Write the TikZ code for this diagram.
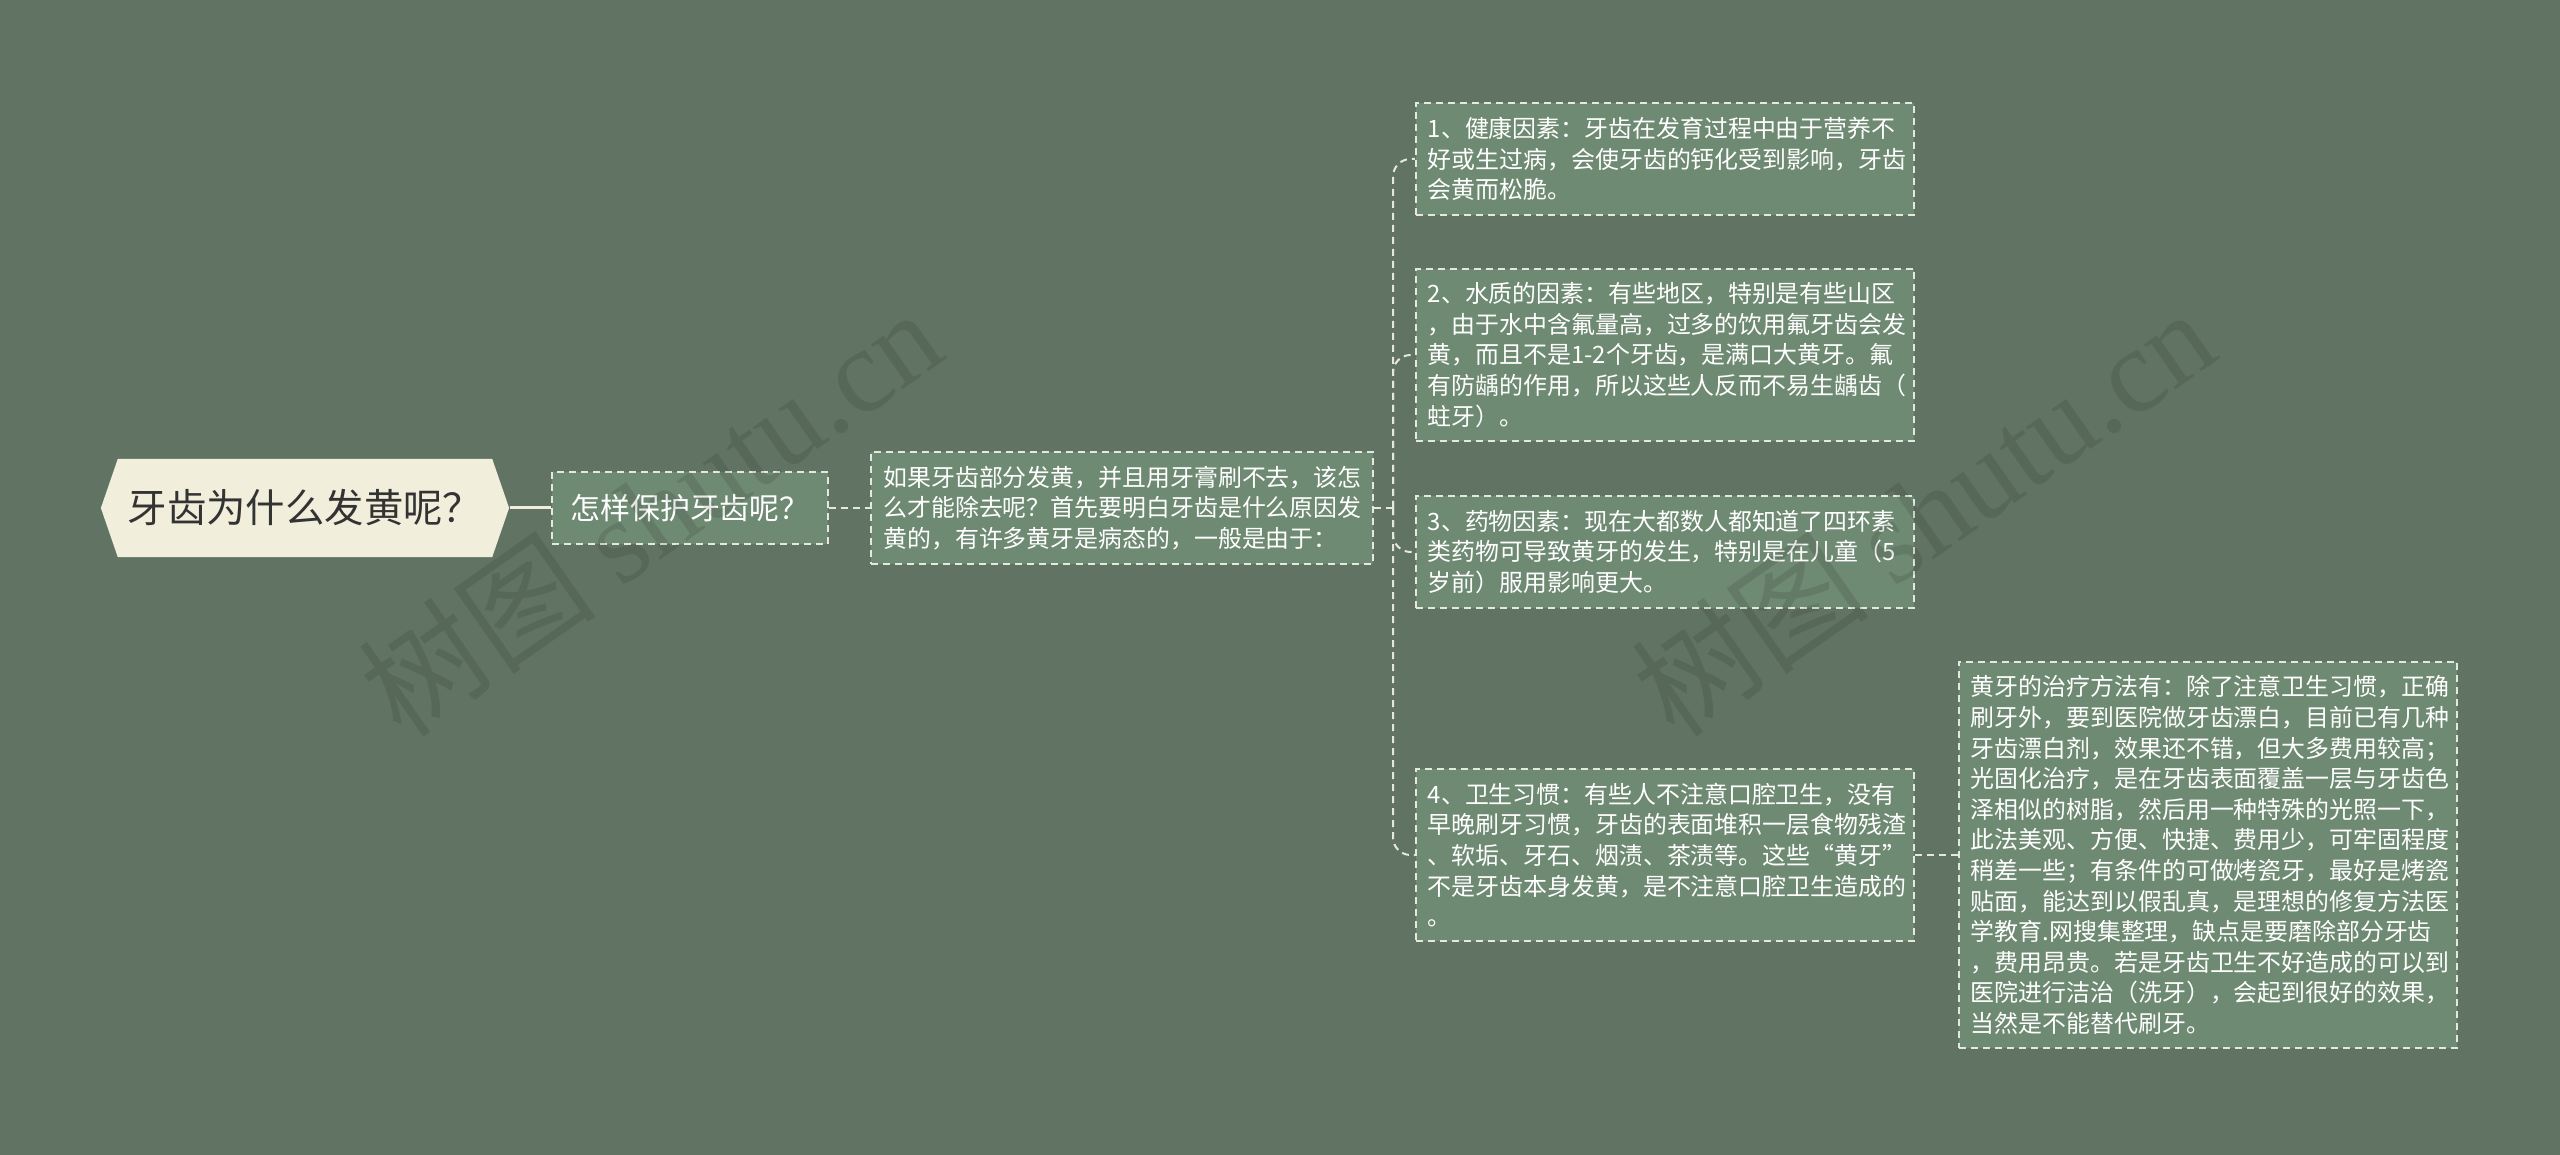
\documentclass[tikz,border=0pt]{standalone}
\usepackage{fontspec}
\setmainfont{Noto Sans CJK SC}
\newfontfamily\wmfont{Liberation Serif}
\usetikzlibrary{shapes.symbols}

\definecolor{bgcol}{HTML}{617463}
\definecolor{boxcol}{HTML}{6F8A72}
\definecolor{rootcol}{HTML}{F1EEDC}
\definecolor{edgecol}{HTML}{E4E8DE}
\definecolor{inkcol}{HTML}{333333}

\tikzset{
  leafbox/.style={draw=edgecol, fill=boxcol, line width=0.02cm,
    dash pattern=on 0.07cm off 0.05cm, text=white, align=left,
    text width=4.74cm, inner xsep=0.12cm, inner ysep=0.14cm,
    font=\fontsize{6.8pt}{8.7pt}\selectfont},
  rootbox/.style={signal, signal to=west and east, signal pointer angle=142,
    fill=rootcol, text=inkcol, minimum width=4.08cm, minimum height=0.98cm,
    inner sep=0pt, font=\fontsize{11.2pt}{13pt}\selectfont},
  dashlink/.style={draw=edgecol, line width=0.02cm, dash pattern=on 0.07cm off 0.05cm},
  wmtext/.style={text=black, text opacity=0.1, rotate=35,
    font=\fontsize{34pt}{34pt}\selectfont}
}

\begin{document}
\begin{tikzpicture}[x=0.01cm, y=-0.01cm]
  \useasboundingbox (0,0) rectangle (2560,1155);
  \fill[bgcol] (0,0) rectangle (2560,1155);

  \node[rootbox] (root) at (305,508) {牙齿为什么发黄呢？};
  \node[leafbox, text width=, minimum width=2.76cm, minimum height=0.72cm,
    align=center, font=\fontsize{8.5pt}{10pt}\selectfont] (how) at (690,508) {怎样保护牙齿呢？};
  \node[leafbox, text width=4.77cm] (intro) at (1122,508)
    {如果牙齿部分发黄，并且用牙膏刷不去，该怎\\么才能除去呢？首先要明白牙齿是什么原因发\\黄的，有许多黄牙是病态的，一般是由于：};

  % four causes
  \node[leafbox] (health) at (1665,159)
    {1、健康因素：牙齿在发育过程中由于营养不\\好或生过病，会使牙齿的钙化受到影响，牙齿\\会黄而松脆。};
  \node[leafbox] (water) at (1665,355)
    {2、水质的因素：有些地区，特别是有些山区\\，由于水中含氟量高，过多的饮用氟牙齿会发\\黄，而且不是1-2个牙齿，是满口大黄牙。氟\\有防龋的作用，所以这些人反而不易生龋齿（\\蛀牙）。};
  \node[leafbox] (drug) at (1665,552)
    {3、药物因素：现在大都数人都知道了四环素\\类药物可导致黄牙的发生，特别是在儿童（5\\岁前）服用影响更大。};
  \node[leafbox] (habit) at (1665,855)
    {4、卫生习惯：有些人不注意口腔卫生，没有\\早晚刷牙习惯，牙齿的表面堆积一层食物残渣\\、软垢、牙石、烟渍、茶渍等。这些“黄牙”\\不是牙齿本身发黄，是不注意口腔卫生造成的\\。};
  \node[leafbox] (cure) at (2208,855)
    {黄牙的治疗方法有：除了注意卫生习惯，正确\\刷牙外，要到医院做牙齿漂白，目前已有几种\\牙齿漂白剂，效果还不错，但大多费用较高；\\光固化治疗，是在牙齿表面覆盖一层与牙齿色\\泽相似的树脂，然后用一种特殊的光照一下，\\此法美观、方便、快捷、费用少，可牢固程度\\稍差一些；有条件的可做烤瓷牙，最好是烤瓷\\贴面，能达到以假乱真，是理想的修复方法医\\学教育.网搜集整理，缺点是要磨除部分牙齿\\，费用昂贵。若是牙齿卫生不好造成的可以到\\医院进行洁治（洗牙），会起到很好的效果，\\当然是不能替代刷牙。};

  \coordinate (hub) at (1393,508);
  \draw[rootcol, line width=0.03cm] (root.east) -- (how.west);
  \draw[dashlink] (how.east) -- (intro.west);
  \draw[dashlink] (intro.east) -- (hub);
  \draw[dashlink, rounded corners=5] (hub) |- (health.west);
  \draw[dashlink, rounded corners=5] (hub) |- (water.west);
  \draw[dashlink, rounded corners=5] (hub) |- (drug.west);
  \draw[dashlink, rounded corners=5] (hub) |- (habit.west);
  \draw[dashlink] (habit.east) -- (cure.west);

  % watermarks
  \node[wmtext] (wm1) at (650,512) {树图 {\wmfont shutu.cn}};
  \node[wmtext] (wm2) at (1923,512) {树图 {\wmfont shutu.cn}};
\end{tikzpicture}
\end{document}
